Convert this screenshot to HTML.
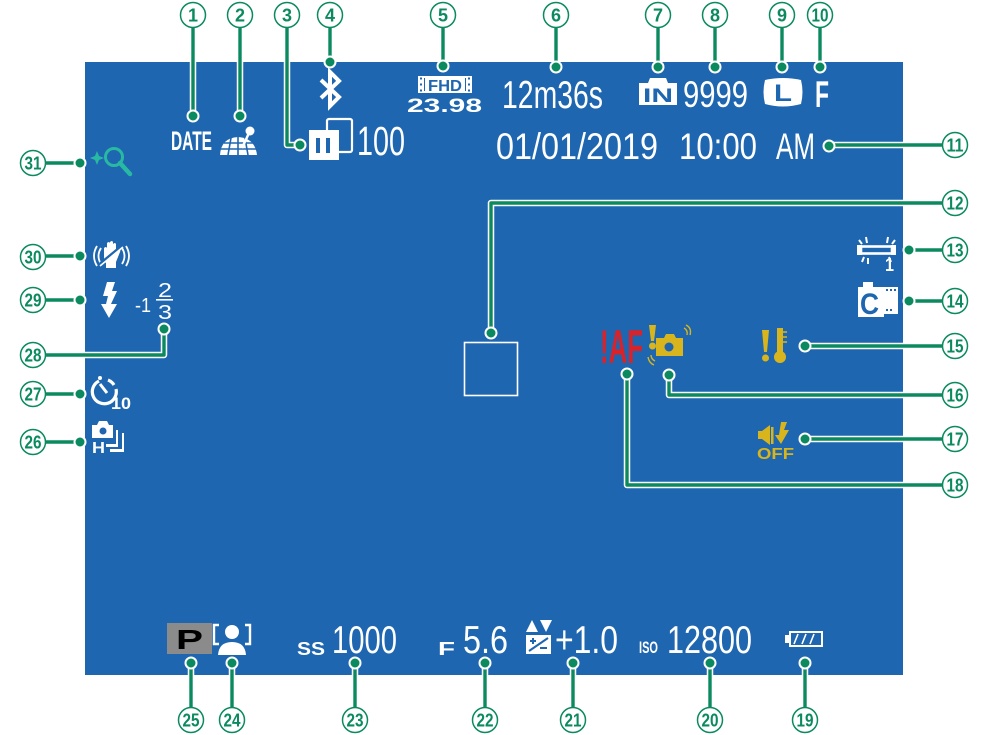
<!DOCTYPE html>
<html><head><meta charset="utf-8"><style>
html,body{margin:0;padding:0;background:#fff;}
svg{display:block;}
text{font-family:"Liberation Sans",sans-serif;}
</style></head><body>
<svg width="988" height="735" viewBox="0 0 988 735" xmlns="http://www.w3.org/2000/svg">
<rect x="0" y="0" width="988" height="735" fill="#fff"/>
<rect x="85" y="62" width="818" height="613" fill="#1e66b0"/>

<!-- ========== Display content ========== -->
<g fill="#fff">
  <!-- 1 DATE -->
  <text x="171" y="150" font-size="27" font-weight="bold" textLength="41" lengthAdjust="spacingAndGlyphs">DATE</text>
  <!-- 2 globe -->
  <g>
    <path d="M220,155 Q221,138 238,137 Q255,138 257,155 Z" fill="#fff"/>
    <g stroke="#1e66b0" stroke-width="1.6" fill="none">
      <path d="M221,149 L256,149 M224,143 L253,143 M231,138 L228,155 M238,137 L238,155 M245,138 L248,155"/>
    </g>
    <circle cx="250" cy="131" r="4.5"/>
    <path d="M249,133 L242,148" stroke="#fff" stroke-width="2.5"/>
  </g>
  <!-- 3 phone/transfer -->
  <rect x="327" y="119" width="25" height="33" rx="2" fill="none" stroke="#fff" stroke-width="2.2"/>
  <rect x="309" y="130" width="30" height="30"/>
  <rect x="316" y="138" width="4" height="15" fill="#1e66b0"/>
  <rect x="326" y="138" width="4" height="15" fill="#1e66b0"/>
  <text x="357" y="155" font-size="41" textLength="48" lengthAdjust="spacingAndGlyphs">100</text>
  <!-- 4 bluetooth -->
  <path d="M321,80 L339,97 L330,106 L330,72 L339,81 L321,98" fill="none" stroke="#fff" stroke-width="4" stroke-linejoin="miter"/>
  <!-- 5 FHD -->
  <rect x="418" y="76" width="54" height="17"/>
  <g fill="#1e66b0">
    <rect x="420" y="77.5" width="2" height="2"/><rect x="420" y="83.5" width="2" height="2"/><rect x="420" y="89.5" width="2" height="2"/>
    <rect x="468" y="77.5" width="2" height="2"/><rect x="468" y="83.5" width="2" height="2"/><rect x="468" y="89.5" width="2" height="2"/>
    <rect x="424" y="78" width="1" height="13"/><rect x="465" y="78" width="1" height="13"/>
  </g>
  <text x="428" y="91" font-size="16" font-weight="bold" fill="#1e66b0" textLength="34" lengthAdjust="spacingAndGlyphs">FHD</text>
  <text x="407" y="112" font-size="19" font-weight="bold" textLength="75" lengthAdjust="spacingAndGlyphs">23.98</text>
  <!-- 6 -->
  <text x="502" y="108" font-size="38.5" textLength="101" lengthAdjust="spacingAndGlyphs">12m36s</text>
  <!-- 7 IN -->
  <path d="M639,83 L648,83 L650,78 L666,78 L668,83 L677,83 L677,105 L639,105 Z"/>
  <text x="643" y="102" font-size="19" font-weight="bold" fill="#1e66b0" textLength="30" lengthAdjust="spacingAndGlyphs">IN</text>
  <!-- 8 -->
  <text x="683" y="107" font-size="37" textLength="65" lengthAdjust="spacingAndGlyphs">9999</text>
  <!-- 9 L -->
  <path d="M765,80 Q783,76 801,80 Q804,92 801,104 Q783,109 765,104 Q762,92 765,80 Z"/>
  <text x="774" y="101" font-size="24" font-weight="bold" fill="#1e66b0" textLength="18" lengthAdjust="spacingAndGlyphs">L</text>
  <!-- 10 F -->
  <text x="815" y="107" font-size="37" font-weight="bold" textLength="14" lengthAdjust="spacingAndGlyphs">F</text>
  <!-- 11 date -->
  <text x="496" y="159" font-size="37" textLength="162" lengthAdjust="spacingAndGlyphs">01/01/2019</text>
  <text x="679" y="159" font-size="37" textLength="78" lengthAdjust="spacingAndGlyphs">10:00</text>
  <text x="776" y="159" font-size="37" textLength="39" lengthAdjust="spacingAndGlyphs">AM</text>

  <!-- 12 focus frame -->
  <rect x="464.5" y="342.5" width="53" height="53" fill="none" stroke="#fff" stroke-width="1.6"/>

  <!-- 13 light bar -->
  <rect x="861" y="246.5" width="31" height="7" fill="none" stroke="#fff" stroke-width="2.6"/>
  <rect x="857" y="245" width="5" height="10"/><rect x="891" y="245" width="5" height="10"/>
  <g stroke="#fff" stroke-width="2">
    <path d="M866,237 L867,243 M888,237 L887,243 M859,240 L862,244 M895,240 L892,244 M862,262 L864,257 M891,262 L889,257 M868,264 L868,258"/>
  </g>
  <text x="885" y="271" font-size="18" font-weight="bold" textLength="9" lengthAdjust="spacingAndGlyphs">1</text>
  <!-- 14 C film -->
  <path d="M858,287 L863,287 L863,282 L873,282 L873,287 L884,287 L884,317 L858,317 Z"/>
  <text x="860" y="314" font-size="30" font-weight="bold" fill="#1e66b0" textLength="19" lengthAdjust="spacingAndGlyphs">C</text>
  <rect x="883" y="287" width="15" height="27"/>
  <g fill="#1e66b0">
    <rect x="886" y="289" width="2" height="2"/><rect x="890" y="289" width="2" height="2"/><rect x="894" y="289" width="2" height="2"/>
    <rect x="886" y="309" width="2" height="2"/><rect x="890" y="309" width="2" height="2"/>
    <rect x="882" y="294" width="14" height="12" rx="1" fill="#fff"/>
  </g>

  <!-- 31 magnifier (teal) -->
  <g fill="#28b9a3" stroke="#28b9a3">
    <path d="M97,151 L99,156 L104,158 L99,160 L97,165 L95,160 L90,158 L95,156 Z" stroke="none"/>
    <circle cx="114" cy="157" r="8.5" fill="none" stroke-width="3"/>
    <path d="M120,163 L130,174" stroke-width="4.5" stroke-linecap="round"/>
  </g>
  <!-- 30 hand -->
  <g fill="none" stroke="#fff" stroke-width="1.8">
    <path d="M97,246 Q91,256 97,266"/><path d="M101,248 Q96,256 101,264"/>
    <path d="M126,246 Q132,256 126,266"/><path d="M122,248 Q127,256 122,264"/>
  </g>
  <path d="M104,256 L104,248 Q106,246 107,248 L107,243 Q109,241 110,243 L110,242 Q112,240 113,242 L113,244 Q115,242 116,244 L116,252 L119,249 Q121,249 120,252 L116,262 L116,268 L106,268 L106,263 Q104,261 104,256 Z"/>
  <path d="M100,264 L123,245" stroke="#1e66b0" stroke-width="3"/>
  <path d="M100,266 L123,247" stroke="#fff" stroke-width="1.6"/>
  <!-- 29 flash -->
  <path d="M107,282 L115,282 L112,291 L117,291 L111,304 L117,304 L109,318 L101,304 L106,304 L108,296 L103,296 Z"/>
  <text x="135" y="312" font-size="20" textLength="16" lengthAdjust="spacingAndGlyphs">-1</text>
  <text x="158" y="297" font-size="20" textLength="14" lengthAdjust="spacingAndGlyphs">2</text>
  <rect x="156" y="299" width="17" height="1.6"/>
  <text x="158" y="319" font-size="20" textLength="14" lengthAdjust="spacingAndGlyphs">3</text>
  <!-- 27 self timer -->
  <path d="M99,381 A12,12 0 1 0 116,389" fill="none" stroke="#fff" stroke-width="3.2"/>
  <path d="M108,380 A12,12 0 0 1 114,385" fill="none" stroke="#fff" stroke-width="3.2"/>
  <path d="M100,384 L107,393" stroke="#fff" stroke-width="3"/>
  <circle cx="100" cy="378" r="2"/>
  <text x="111" y="409" font-size="17" font-weight="bold" textLength="20" lengthAdjust="spacingAndGlyphs">10</text>
  <!-- 26 continuous H -->
  <path d="M92,425 L97,425 L99,421 L107,421 L109,425 L113,425 L113,438 L92,438 Z"/>
  <circle cx="103" cy="431" r="3.5" fill="#1e66b0"/>
  <path d="M116,430 L118,430 L118,447 L106,447 L106,444 L116,444 Z"/>
  <path d="M122,433 L124,433 L124,452 L110,452 L110,449 L122,449 Z"/>
  <text x="92" y="453" font-size="16" font-weight="bold" textLength="13" lengthAdjust="spacingAndGlyphs">H</text>
</g>

<!-- yellow / red warnings -->
<g fill="#d9b51d">
  <!-- 15 -->
  <path d="M762,330 L769,330 L767,352 L764,352 Z"/>
  <circle cx="765.5" cy="358" r="3.5"/>
  <rect x="777" y="328" width="6" height="26"/>
  <circle cx="780" cy="357" r="6"/>
  <path d="M783,332 L787,332 M783,337 L787,337 M783,342 L787,342" stroke="#d9b51d" stroke-width="1.5"/>
  <!-- 16 -->
  <path d="M649,325 L656,325 L654,341 L651,341 Z"/>
  <circle cx="652.5" cy="346" r="3.5"/>
  <path d="M656,338 L664,338 L666,334 L674,334 L676,338 L683,338 L683,356 L656,356 Z"/>
  <circle cx="669" cy="347" r="4.5" fill="#1e66b0"/>
  <path d="M684,328 Q688,330 687,335 M686,325 Q692,328 690,335" fill="none" stroke="#d9b51d" stroke-width="1.4"/>
  <path d="M651,355 Q651,359 655,361 M648,357 Q649,363 654,365" fill="none" stroke="#d9b51d" stroke-width="1.4"/>
  <!-- 17 -->
  <rect x="758" y="431" width="4" height="8"/>
  <path d="M762,431 L770,425 L770,445 L762,439 Z"/>
  <rect x="771" y="427" width="2.5" height="17"/>
  <path d="M781,422 L787,422 L784,430 L789,430 L781,444 L775,435 L779,435 Z"/>
  <text x="757" y="459" font-size="16" font-weight="bold" textLength="37" lengthAdjust="spacingAndGlyphs">OFF</text>
</g>
<text x="600" y="363" font-size="47" font-weight="bold" fill="#d8232a" textLength="43" lengthAdjust="spacingAndGlyphs">!AF</text>

<!-- bottom row -->
<rect x="167" y="623" width="45" height="31" fill="#8b8b8b"/>
<text x="176" y="649" font-size="28" font-weight="bold" fill="#000" textLength="27" lengthAdjust="spacingAndGlyphs">P</text>
<g fill="#fff">
  <path d="M219,625 L214,625 L214,644 L219,644" fill="none" stroke="#fff" stroke-width="2.4"/>
  <path d="M245,625 L250,625 L250,644 L245,644" fill="none" stroke="#fff" stroke-width="2.4"/>
  <circle cx="232" cy="632" r="7"/>
  <path d="M218,655 Q219,642 232,642 Q245,642 246,655 Z"/>
  <text x="297" y="655" font-size="18" font-weight="bold" textLength="28" lengthAdjust="spacingAndGlyphs">SS</text>
  <text x="332" y="653" font-size="39" textLength="65" lengthAdjust="spacingAndGlyphs">1000</text>
  <text x="438" y="655" font-size="18" font-weight="bold" textLength="17" lengthAdjust="spacingAndGlyphs">F</text>
  <text x="463" y="653" font-size="39" textLength="45" lengthAdjust="spacingAndGlyphs">5.6</text>
  <!-- EV -->
  <path d="M526,632 L532,620 L538,632 Z"/>
  <path d="M540,620 L552,620 L546,632 Z"/>
  <rect x="526" y="635" width="25" height="19"/>
  <path d="M529,651 L548,638" stroke="#1e66b0" stroke-width="2"/>
  <path d="M530,641 L536,641 M533,638 L533,644 M540,648 L547,648" stroke="#1e66b0" stroke-width="2"/>
  <text x="555" y="653" font-size="39" textLength="63" lengthAdjust="spacingAndGlyphs">+1.0</text>
  <text x="639" y="653" font-size="17" font-weight="bold" textLength="19" lengthAdjust="spacingAndGlyphs">ISO</text>
  <text x="667" y="653" font-size="39" textLength="85" lengthAdjust="spacingAndGlyphs">12800</text>
  <!-- battery -->
  <rect x="785" y="635" width="4" height="8"/>
  <rect x="790" y="632" width="32" height="14" fill="none" stroke="#fff" stroke-width="2"/>
  <path d="M794,644 L798,634 M802,644 L806,634 M810,644 L814,634" stroke="#fff" stroke-width="1.6"/>
</g>

<!-- ========== Callout leaders ========== -->
<g fill="none" stroke-linejoin="round">
  <g stroke="#fff" stroke-width="6.5">
    <path d="M193,28 V116 M240,28 V116 M287,28 V145 H300 M330,28 V62 M443,28 V66 M556,28 V67 M658,28 V67 M715,28 V67 M782,28 V67 M820,28 V67
             M942,145 H829 M942,203 H491 V333 M942,250 H909 M942,301 H909 M942,346 H805 M942,395 H669 V375 M942,439 H805 M942,485 H627 V374
             M805,707 V663 M710,707 V663 M573,707 V663 M485,707 V663 M355,707 V663 M232,707 V663 M191,707 V663
             M46,442 H80 M46,394 H80 M46,355 H164 V329 M46,300 H80 M46,256 H80 M46,163 H80"/>
  </g>
  <g stroke="#0b8a5f" stroke-width="3.4">
    <path d="M193,28 V116 M240,28 V116 M287,28 V145 H300 M330,28 V62 M443,28 V66 M556,28 V67 M658,28 V67 M715,28 V67 M782,28 V67 M820,28 V67
             M942,145 H829 M942,203 H491 V333 M942,250 H909 M942,301 H909 M942,346 H805 M942,395 H669 V375 M942,439 H805 M942,485 H627 V374
             M805,707 V663 M710,707 V663 M573,707 V663 M485,707 V663 M355,707 V663 M232,707 V663 M191,707 V663
             M46,442 H80 M46,394 H80 M46,355 H164 V329 M46,300 H80 M46,256 H80 M46,163 H80"/>
  </g>
</g>
<g fill="#0b8a5f" stroke="#fff" stroke-width="2">
  <circle cx="193" cy="116" r="5.5"/><circle cx="240" cy="116" r="5.5"/><circle cx="300" cy="145" r="5.5"/>
  <circle cx="330" cy="62" r="5.5"/><circle cx="443" cy="66" r="5.5"/><circle cx="556" cy="67" r="5.5"/>
  <circle cx="658" cy="67" r="5.5"/><circle cx="715" cy="67" r="5.5"/><circle cx="782" cy="67" r="5.5"/><circle cx="820" cy="67" r="5.5"/>
  <circle cx="829" cy="146" r="5.5"/><circle cx="491" cy="333" r="5.5"/><circle cx="909" cy="250" r="5.5"/><circle cx="909" cy="301" r="5.5"/>
  <circle cx="805" cy="346" r="5.5"/><circle cx="669" cy="375" r="5.5"/><circle cx="805" cy="439" r="5.5"/><circle cx="627" cy="374" r="5.5"/>
  <circle cx="805" cy="663" r="5.5"/><circle cx="710" cy="663" r="5.5"/><circle cx="573" cy="663" r="5.5"/><circle cx="485" cy="663" r="5.5"/>
  <circle cx="355" cy="663" r="5.5"/><circle cx="232" cy="663" r="5.5"/><circle cx="191" cy="663" r="5.5"/>
  <circle cx="80" cy="442" r="5.5"/><circle cx="80" cy="394" r="5.5"/><circle cx="164" cy="329" r="5.5"/>
  <circle cx="80" cy="300" r="5.5"/><circle cx="80" cy="256" r="5.5"/><circle cx="80" cy="163" r="5.5"/>
</g>

<!-- ========== Callout circles ========== -->
<g fill="#fff" stroke="#0b8a5f" stroke-width="1.5">
  <circle cx="193" cy="15" r="12.5"/><circle cx="240" cy="15" r="12.5"/><circle cx="287" cy="15" r="12.5"/>
  <circle cx="330" cy="15" r="12.5"/><circle cx="443" cy="15" r="12.5"/><circle cx="556" cy="15" r="12.5"/>
  <circle cx="658" cy="15" r="12.5"/><circle cx="715" cy="15" r="12.5"/><circle cx="782" cy="15" r="12.5"/><circle cx="820" cy="15" r="12.5"/>
  <circle cx="955" cy="145" r="12.5"/><circle cx="955" cy="203" r="12.5"/><circle cx="955" cy="250" r="12.5"/>
  <circle cx="955" cy="301" r="12.5"/><circle cx="955" cy="346" r="12.5"/><circle cx="955" cy="395" r="12.5"/>
  <circle cx="955" cy="439" r="12.5"/><circle cx="955" cy="485" r="12.5"/>
  <circle cx="805" cy="720" r="12.5"/><circle cx="710" cy="720" r="12.5"/><circle cx="573" cy="720" r="12.5"/>
  <circle cx="485" cy="720" r="12.5"/><circle cx="355" cy="720" r="12.5"/><circle cx="232" cy="720" r="12.5"/><circle cx="191" cy="720" r="12.5"/>
  <circle cx="33" cy="442" r="12.5"/><circle cx="33" cy="394" r="12.5"/><circle cx="33" cy="355" r="12.5"/>
  <circle cx="33" cy="300" r="12.5"/><circle cx="33" cy="257" r="12.5"/><circle cx="33" cy="163" r="12.5"/>
</g>
<g fill="#0b8a5f" font-size="18" font-weight="bold" text-anchor="middle">
  <text x="193" y="21.5">1</text><text x="240" y="21.5">2</text><text x="287" y="21.5">3</text>
  <text x="330" y="21.5">4</text><text x="443" y="21.5">5</text><text x="556" y="21.5">6</text>
  <text x="658" y="21.5">7</text><text x="715" y="21.5">8</text><text x="782" y="21.5">9</text>
  <text x="820" y="21.5" textLength="17" lengthAdjust="spacingAndGlyphs">10</text>
  <text x="955" y="151.5" textLength="17" lengthAdjust="spacingAndGlyphs">11</text>
  <text x="955" y="209.5" textLength="17" lengthAdjust="spacingAndGlyphs">12</text>
  <text x="955" y="256.5" textLength="17" lengthAdjust="spacingAndGlyphs">13</text>
  <text x="955" y="307.5" textLength="17" lengthAdjust="spacingAndGlyphs">14</text>
  <text x="955" y="352.5" textLength="17" lengthAdjust="spacingAndGlyphs">15</text>
  <text x="955" y="401.5" textLength="17" lengthAdjust="spacingAndGlyphs">16</text>
  <text x="955" y="445.5" textLength="17" lengthAdjust="spacingAndGlyphs">17</text>
  <text x="955" y="491.5" textLength="17" lengthAdjust="spacingAndGlyphs">18</text>
  <text x="805" y="726.5" textLength="17" lengthAdjust="spacingAndGlyphs">19</text>
  <text x="710" y="726.5" textLength="17" lengthAdjust="spacingAndGlyphs">20</text>
  <text x="573" y="726.5" textLength="17" lengthAdjust="spacingAndGlyphs">21</text>
  <text x="485" y="726.5" textLength="17" lengthAdjust="spacingAndGlyphs">22</text>
  <text x="355" y="726.5" textLength="17" lengthAdjust="spacingAndGlyphs">23</text>
  <text x="232" y="726.5" textLength="17" lengthAdjust="spacingAndGlyphs">24</text>
  <text x="191" y="726.5" textLength="17" lengthAdjust="spacingAndGlyphs">25</text>
  <text x="33" y="448.5" textLength="17" lengthAdjust="spacingAndGlyphs">26</text>
  <text x="33" y="400.5" textLength="17" lengthAdjust="spacingAndGlyphs">27</text>
  <text x="33" y="361.5" textLength="17" lengthAdjust="spacingAndGlyphs">28</text>
  <text x="33" y="306.5" textLength="17" lengthAdjust="spacingAndGlyphs">29</text>
  <text x="33" y="263.5" textLength="17" lengthAdjust="spacingAndGlyphs">30</text>
  <text x="33" y="169.5" textLength="17" lengthAdjust="spacingAndGlyphs">31</text>
</g>
</svg>
</body></html>
